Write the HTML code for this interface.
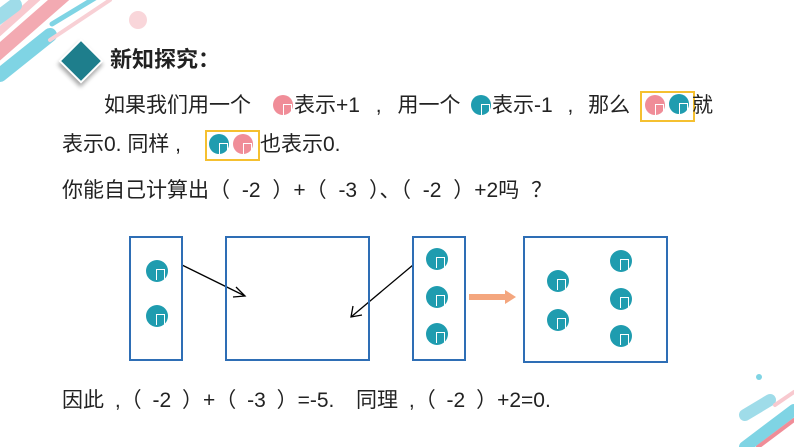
<!DOCTYPE html>
<html><head><meta charset="utf-8"><style>
body{margin:0;width:794px;height:447px;overflow:hidden;background:#fff;position:relative;font-family:"Liberation Sans","Noto Sans CJK SC",sans-serif;color:#222}
.t{position:absolute;font-size:21px;white-space:pre;line-height:26px}
.c{position:absolute;border-radius:50%;width:20px;height:20px}
.c::after{content:"";position:absolute;left:10px;top:9px;width:7px;height:10px;border:1.5px solid #fff;border-bottom:none}
.tl{background:#1f9caf}.pk{background:#f08d98}
.bx{position:absolute;border:2px solid #2e6eb5}
.yb{position:absolute;border:2px solid #f5c030}
</style></head><body>
<svg width="794" height="447" style="position:absolute;left:0;top:0">
<g stroke-linecap="round">
<line x1="-10" y1="60" x2="70" y2="-10" stroke="#f3aab2" stroke-width="14"/>
<line x1="-10" y1="40" x2="40" y2="-5" stroke="#f8c9cf" stroke-width="8"/>
<line x1="0" y1="75" x2="50" y2="35" stroke="#7fd4e4" stroke-width="14"/>
<line x1="52" y1="24" x2="100" y2="-5" stroke="#7fd4e4" stroke-width="5"/>
<line x1="50" y1="40" x2="110" y2="0" stroke="#f8d0d5" stroke-width="4"/>
<line x1="-5" y1="20" x2="15" y2="5" stroke="#9fdce9" stroke-width="14"/>
<circle cx="138" cy="20" r="9" fill="#f9d6da"/>
<line x1="745" y1="447" x2="794" y2="410" stroke="#7fd4e4" stroke-width="12"/>
<line x1="745" y1="415" x2="770" y2="400" stroke="#9fdce9" stroke-width="12"/>
<line x1="758" y1="447" x2="794" y2="420" stroke="#f08d98" stroke-width="4"/>
<line x1="775" y1="405" x2="794" y2="392" stroke="#f8c9cf" stroke-width="4"/>
<circle cx="759" cy="377" r="3" fill="#7fd4e4"/>
</g>
<rect x="66" y="46" width="30" height="30" fill="#1e7e8c" stroke="#fff" stroke-width="2" transform="rotate(45 81 61)" style="filter:drop-shadow(2px 3px 2px rgba(0,0,0,.35))"/>
<line x1="182" y1="265" x2="245" y2="296" stroke="#000" stroke-width="1.3"/>
<polyline points="236,287 245,296 233,297" fill="none" stroke="#000" stroke-width="1.3"/>
<line x1="413" y1="265" x2="351" y2="317" stroke="#000" stroke-width="1.3"/>
<polyline points="353,306 351,317 362,315" fill="none" stroke="#000" stroke-width="1.3"/>
<line x1="469" y1="297" x2="506" y2="297" stroke="#f4a67e" stroke-width="6"/>
<polygon points="505,290 516,297 505,304" fill="#f4a67e"/>
</svg>
<div class="t" style="left:110px;top:47px;font-weight:bold;font-size:22px">新知探究：</div>
<div class="t" style="left:104px;top:93px">如果我们用一个</div>
<div class="c pk" style="left:273px;top:95px"></div>
<div class="t" style="left:294px;top:93px;word-spacing:10px">表示+1 , 用一个</div>
<div class="c tl" style="left:471px;top:95px"></div>
<div class="t" style="left:492px;top:93px;word-spacing:9px">表示-1 , 那么</div>
<div class="yb" style="left:640px;top:91px;width:51px;height:27px"></div>
<div class="c pk" style="left:645px;top:95px"></div>
<div class="c tl" style="left:669px;top:94px"></div>
<div class="t" style="left:692px;top:93px">就</div>
<div class="t" style="left:62px;top:132px">表示0. 同样 ,</div>
<div class="yb" style="left:205px;top:130px;width:51px;height:27px"></div>
<div class="c tl" style="left:209px;top:134px"></div>
<div class="c pk" style="left:233px;top:134px"></div>
<div class="t" style="left:260px;top:132px">也表示0.</div>
<div class="t" style="left:62px;top:178px;word-spacing:6px">你能自己计算出（ -2 ）+（ -3 ）、（ -2 ）+2吗 ？</div>
<div class="bx" style="left:129px;top:236px;width:50px;height:121px"></div>
<div class="bx" style="left:225px;top:236px;width:141px;height:121px"></div>
<div class="bx" style="left:412px;top:236px;width:50px;height:121px"></div>
<div class="bx" style="left:523px;top:236px;width:141px;height:123px"></div>
<div class="c tl" style="left:146px;top:260px;width:22px;height:22px"></div>
<div class="c tl" style="left:146px;top:305px;width:22px;height:22px"></div>
<div class="c tl" style="left:426px;top:248px;width:22px;height:22px"></div>
<div class="c tl" style="left:426px;top:286px;width:22px;height:22px"></div>
<div class="c tl" style="left:426px;top:323px;width:22px;height:22px"></div>
<div class="c tl" style="left:547px;top:270px;width:22px;height:22px"></div>
<div class="c tl" style="left:547px;top:309px;width:22px;height:22px"></div>
<div class="c tl" style="left:610px;top:250px;width:22px;height:22px"></div>
<div class="c tl" style="left:610px;top:288px;width:22px;height:22px"></div>
<div class="c tl" style="left:610px;top:325px;width:22px;height:22px"></div>
<div class="t" style="left:62px;top:388px;word-spacing:5px">因此 ,（ -2 ）+（ -3 ）=-5.  同理 ,（ -2 ）+2=0.</div>
</body></html>
